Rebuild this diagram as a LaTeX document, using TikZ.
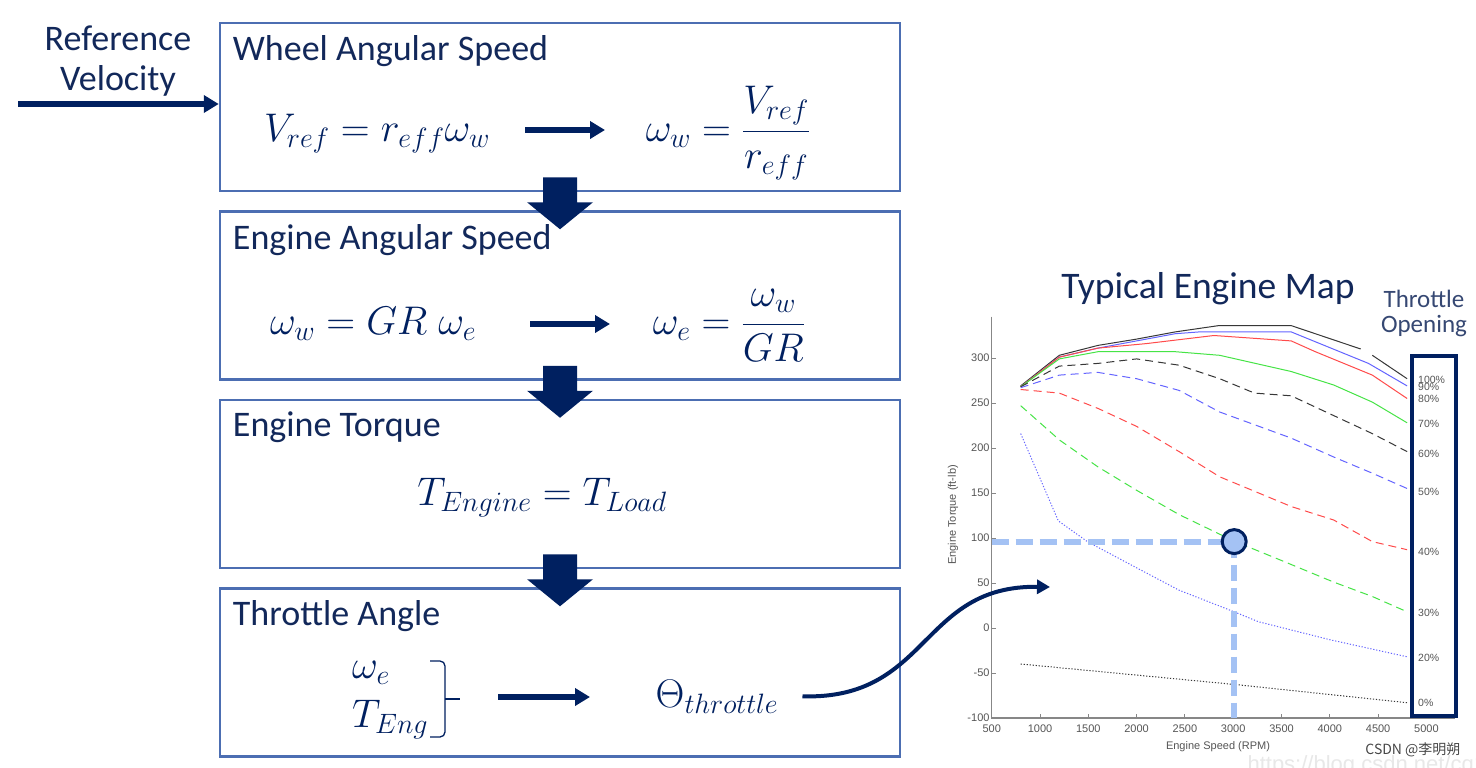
\RequirePackage{fix-cm}
\documentclass[tikz,border=0pt]{standalone}
\usepackage{amsmath}
\usepackage{fontspec}
\newfontfamily\cf{Carlito}
\newfontfamily\af{Liberation Sans}
\newfontfamily\cjk{Noto Sans CJK SC}
\usepackage{tikz}
\usetikzlibrary{arrows.meta,positioning,calc}
\definecolor{navy}{RGB}{0,32,96}
\definecolor{ink}{RGB}{18,40,90}
\definecolor{frame}{RGB}{76,110,178}
\definecolor{pale}{RGB}{164,194,244}
\definecolor{mk}{RGB}{55,55,55}
\definecolor{mb}{RGB}{100,100,255}
\definecolor{mr}{RGB}{255,75,75}
\definecolor{mg}{RGB}{70,228,70}
\definecolor{axgray}{RGB}{135,135,135}
\definecolor{numgray}{RGB}{85,85,85}
\tikzset{
  panel/.style={draw=frame,line width=2.5pt,minimum width=680pt,minimum height=168pt,inner sep=0pt},
  head/.style={anchor=base west,inner sep=0pt,text=ink,font=\cf\fontsize{36}{40}\selectfont},
  formula/.style={anchor=base,inner sep=0pt,text=navy,font=\fontsize{40}{48}\selectfont},
  flow/.style={navy,line width=5.5pt,-{Triangle[length=15pt,width=17pt]}},
  mapline/.style={line width=1pt},
  dashline/.style={line width=1pt,dash pattern=on 8pt off 5pt},
  dotline/.style={line width=1pt,dash pattern=on 1.2pt off 1.8pt},
  num/.style={font=\af\fontsize{11}{13}\selectfont,text=numgray,inner sep=2pt},
  pct/.style={anchor=west,inner sep=0pt,font=\af\fontsize{10.5}{12}\selectfont,text=numgray},
}

\begin{document}
\begin{tikzpicture}[x=1pt,y=-1pt]
  \useasboundingbox[fill=white] (0,0) rectangle (1476,768);

  % the four stages
  \node[panel] (wheel) at (560,107) {};
  \node[panel,below=18pt of wheel] (engspd) {};
  \node[panel,below=18pt of engspd] (torque) {};
  \node[panel,below=18pt of torque] (thr) {};
  \node[head] (h1) at ($(wheel.north west)+(14,39)$) {Wheel Angular Speed};
  \node[head] (h2) at ($(engspd.north west)+(14,39)$) {Engine Angular Speed};
  \node[head] (h3) at ($(torque.north west)+(14,38)$) {Engine Torque};
  \node[head] (h4) at ($(thr.north west)+(14,38)$) {Throttle Angle};

  \node[font=\cf\fontsize{36}{40}\selectfont,text=ink,align=center] (refv) at (118,61) {Reference\\Velocity};
  \coordinate (vin) at (18,104);
  \draw[flow] (vin) -- (vin -| wheel.west);

  \node[formula] (e1a) at (377,141) {$V_{ref} = r_{eff}\omega_w$};
  \node[formula] (e1b) at (728,141) {$\omega_w = \dfrac{V_{ref}}{r_{eff}}$};
  \coordinate (a1s) at (525,130); \coordinate (a1e) at (605,130);
  \draw[flow] (a1s) -- (a1e);

  \node[formula] (e2a) at (373,334) {$\omega_w = GR\;\omega_e$};
  \node[formula] (e2b) at (729,334) {$\omega_e = \dfrac{\omega_w}{GR}$};
  \coordinate (a2s) at (530,324); \coordinate (a2e) at (610,324);
  \draw[flow] (a2s) -- (a2e);

  \node[formula] (e3) at (542,505) {$T_{Engine} = T_{Load}$};

  \node[formula,anchor=base west] (we) at (352,678) {$\omega_e$};
  \node[formula,anchor=base west] (te) at (352,727) {$T_{Eng}$};
  \draw[navy,line width=1.3pt,rounded corners=5pt] (430,661) -- (445,661) -- (445,737) -- (430,737);
  \draw[navy,line width=1.3pt] (445,699) -- (460,699);
  \coordinate (a4s) at (498,697); \coordinate (a4e) at (590,697);
  \draw[flow] (a4s) -- (a4e);
  \node[formula] (theta) at (717,707) {$\Theta_{throttle}$};

  \foreach \a/\b in {wheel/engspd,engspd/torque,torque/thr}
    \fill[navy] ($(\a.south)+(-17,-15)$) -- ($(\a.south)+(17,-15)$) -- ($(\a.south)+(17,10)$)
      -- ($(\a.south)+(33,10)$) -- ($(\b.north)+(0,19)$) -- ($(\a.south)+(-33,10)$)
      -- ($(\a.south)+(-17,10)$) -- cycle;

  % engine map
  \node[anchor=base,font=\cf\fontsize{37.5}{40}\selectfont,text=ink] (maptitle) at (1208,298) {Typical Engine Map};
  \node[align=center,font=\cf\fontsize{25}{25}\selectfont,text=ink!85] (opening) at (1424,313) {Throttle\\Opening};
  \begin{scope}[shift={(943.4,628)},xscale=0.0966,yscale=-0.9]
    \draw[axgray,line width=1.2pt] (500,346) -- (500,-100) -- (5300,-100);
    \foreach \tq in {-100,-50,...,300} {
      \draw[axgray,line width=1pt] (500,\tq) -- ++(45,0);
      \node[num,anchor=east] at (500,\tq) {\tq};
    }
    \foreach \rp in {500,1000,...,5000} {
      \draw[axgray,line width=1pt] (\rp,-100) -- ++(0,5);
      \node[num,anchor=north,yshift=-5pt] at (\rp,-100) {\rp};
    }
    \coordinate (yax) at (500,0);
    \coordinate (xax) at (0,-100);
    % 100 / 90 / 80 / 70 %
    \draw[mapline,mk] plot coordinates {(800,269) (1200,303) (1600,314) (2000,321) (2400,329) (2850,336) (3600,336) (4320,310)};
    \draw[mapline,mk] plot coordinates {(4440,303) (4800,277)};
    \draw[mapline,mb] plot coordinates {(800,268) (1200,301) (1600,311) (2000,319) (2400,327) (2650,329) (3600,329) (4400,294) (4800,269)};
    \draw[mapline,mr] plot coordinates {(800,268) (1200,301) (1600,311) (2100,316) (2800,325) (3600,319) (3850,307) (4440,281) (4800,255)};
    \draw[mapline,mg] plot coordinates {(800,268) (1200,299) (1600,307) (2400,307) (2860,303) (3600,285) (4040,270) (4440,251) (4800,228)};
    % 60 / 50 / 40 / 30 %
    \draw[dashline,mk] plot coordinates {(800,268) (1200,291) (1600,294) (2000,299) (2440,292) (2860,277) (3220,261) (3600,258) (4000,238) (4440,216) (4800,196)};
    \draw[dashline,mb] plot coordinates {(800,267) (1200,281) (1600,284) (2000,277) (2440,264) (2860,240) (3600,211) (4040,190) (4440,172) (4800,155)};
    \draw[dashline,mr] plot coordinates {(800,265) (1200,261) (1600,244) (2000,224) (2440,196) (2860,168) (3600,135) (4040,120) (4440,96) (4800,87)};
    \draw[dashline,mg] plot coordinates {(800,247) (1200,209) (1600,179) (2000,153) (2440,126) (3000,97) (3500,75) (4040,51) (4440,35) (4800,18)};
    % 20 / 0 %
    \draw[dotline,mb] plot coordinates {(800,216) (1190,119) (1490,96) (1980,68) (2440,42) (3010,18) (3260,7) (4000,-13) (4800,-32)};
    \draw[dotline,mk] plot coordinates {(800,-40) (3040,-63) (4800,-83)};
    % operating point
    \coordinate (opc) at (3010,96);
    \draw[pale,line width=6pt,dash pattern=on 17pt off 7pt] (yax |- opc) -- (opc);
    \draw[pale,line width=6pt,dash pattern=on 16pt off 7pt] (opc) -- (opc |- xax);
    \node[circle,draw=navy,line width=3pt,fill=pale,minimum size=24pt,inner sep=0pt] (op) at (opc) {};
  \end{scope}
  \node[num,rotate=90] (ylab) at (953,515) {Engine Torque (ft-lb)};
  \node[num] (xlab) at (1218,747) {Engine Speed (RPM)};

  \draw[navy,line width=4pt] (1412,356) rectangle (1456,716);
  \foreach \p/\yy in {100/380,90/387,80/399,70/424,60/454,50/492,40/552,30/613,20/658,0/703}
    \node[pct] at (1418,\yy) {\p\%};

  \coordinate (mapin) at (1050,587);
  \draw[navy,line width=4pt,-{Triangle[length=13pt,width=14pt]}] ([xshift=24pt]theta.east) .. controls (930,700) and (920,585) .. (mapin);

  \node[anchor=base west,text=black!9,font=\af\fontsize{22}{26}\selectfont] (url) at (1244,771) {https://blog.csdn.net/cq129};
  \node[anchor=east,text=black!72,font=\cjk\fontsize{14}{16}\selectfont] (mark) at (1464,750) {CSDN @李明朔};
\end{tikzpicture}
\end{document}
